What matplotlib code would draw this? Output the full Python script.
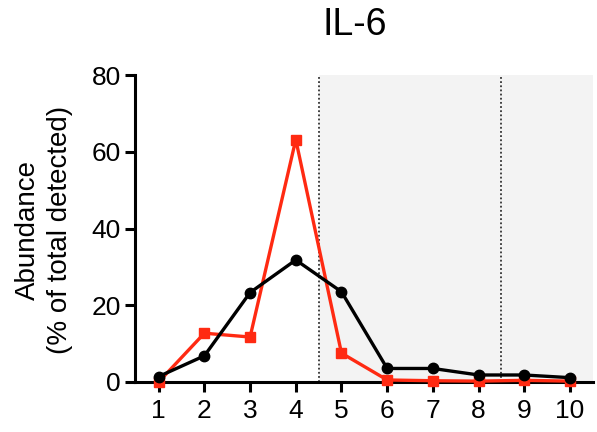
import matplotlib
matplotlib.use("Agg")
import matplotlib.pyplot as plt

# fraction number and abundance (% of total detected)
fractions = [1, 2, 3, 4, 5, 6, 7, 8, 9, 10]
red_vals = [0.0, 12.7, 11.7, 63.2, 7.5, 0.5, 0.3, 0.2, 0.4, 0.2]
black_vals = [1.4, 6.8, 23.3, 31.8, 23.5, 3.5, 3.5, 1.8, 1.8, 1.1]
yticks = [0, 20, 40, 60, 80]
shade_start = 4.5
dotted_x = [4.5, 8.5]

plt.rcParams['font.family'] = ['Liberation Sans', 'DejaVu Sans']

fig = plt.figure(figsize=(5.97, 4.32), dpi=100)
ax = fig.add_axes([0.226, 0.116, 0.767, 0.71])

ax.axvspan(shade_start, 10.5, ymin=0, ymax=1, color='#f3f3f3', zorder=0, lw=0)
for xv in dotted_x:
  ax.plot([xv, xv], [0, 80], color='#333333', lw=1.3, ls=(0, (1, 1.3)), zorder=1)

ax.plot(fractions, red_vals, color='#ff2a12', lw=2.4, marker='s', ms=7.5,
        clip_on=False, zorder=3)
ax.plot(fractions, black_vals, color='black', lw=2.4, marker='o', ms=7.5,
        clip_on=False, zorder=4)

ax.set_xlim(0.48, 10.5)
ax.set_ylim(0, 80)
ax.set_xticks(fractions)
ax.set_yticks(yticks)
ax.spines['top'].set_visible(False)
ax.spines['right'].set_visible(False)
ax.spines['left'].set_linewidth(2.2)
ax.spines['bottom'].set_linewidth(2.2)
ax.tick_params(axis='x', width=2.2, length=7, labelsize=19, pad=5)
ax.tick_params(axis='y', width=2.2, length=7, labelsize=19, pad=3)

fig.text(44 / 597, 1 - 230 / 432, "Abundance\n(% of total detected)",
         fontsize=20, rotation=90, ha='center', va='center',
         multialignment='center', linespacing=1.3)
fig.text(355 / 597, 1 - 25 / 432, "IL-6", fontsize=27, ha='center', va='center')

fig.savefig("out.png", dpi=100)
